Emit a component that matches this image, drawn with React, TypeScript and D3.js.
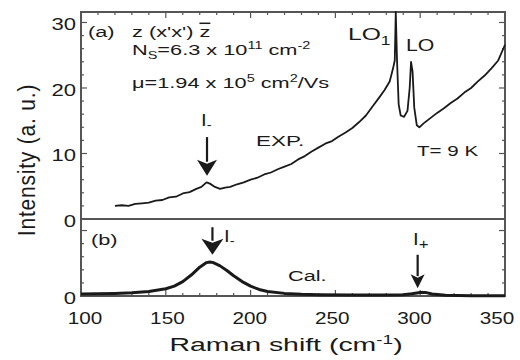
import React from 'react';
import * as d3 from 'd3';

// (a) measured spectrum, Raman shift (cm-1) vs intensity (a. u.)
const expShift = [120, 124, 128, 132, 136, 140, 144, 148, 152, 156, 160, 164, 168, 171, 174, 176, 179, 182, 185, 188,
  192, 196, 200, 204, 208, 212, 216, 220, 224, 228, 232, 236, 240, 244, 248, 252, 256, 260, 264, 268,
  272, 276, 279, 282, 284, 285, 285.6, 286.3, 287.3, 288.5, 290.5, 292.5, 293.8, 294.6, 295.5, 296.5, 298, 299.5,
  302, 306, 310, 314, 318, 322, 326, 330, 334, 338, 342, 346, 350];
const expIntensity = [2.0, 2.1, 2.0, 2.3, 2.4, 2.5, 2.8, 2.9, 3.3, 3.4, 3.9, 4.1, 4.6, 4.9, 5.6, 5.4, 4.9, 4.6, 4.8, 4.9,
  5.3, 5.6, 6.0, 6.3, 6.8, 7.1, 7.6, 8.0, 8.4, 9.1, 9.6, 10.3, 10.9, 11.5, 11.9, 12.6, 13.2, 13.9, 14.8, 15.8,
  17.2, 18.6, 19.7, 21.0, 23.0, 24.2, 31.6, 24.5, 17.5, 15.8, 15.6, 16.5, 20.0, 24.0, 22.5, 17.0, 14.3, 14.0,
  14.6, 15.4, 16.2, 16.9, 17.7, 18.4, 19.3, 20.0, 21.0, 21.9, 23.0, 24.2, 26.6];

// (b) calculated spectrum
const calShift = [100, 110, 120, 130, 140, 150, 155, 160, 165, 170, 174, 176, 178, 182, 186, 190, 195, 200, 205, 210,
  220, 230, 240, 260, 280, 290, 295, 300, 303, 307, 315, 330, 350];
const calIntensity = [0.3, 0.35, 0.4, 0.5, 0.7, 1.1, 1.5, 2.2, 3.2, 4.4, 5.1, 5.2, 5.1, 4.6, 3.9, 3.1, 2.2, 1.5, 1.0, 0.7,
  0.4, 0.25, 0.2, 0.15, 0.15, 0.2, 0.35, 0.55, 0.55, 0.3, 0.1, 0.05, 0.05];

const xTicks = [100, 150, 200, 250, 300, 350];
const topYTicks = [0, 10, 20, 30];
const botYTicks = [0];

const W = 520, H = 360;
const L = 81, R = 505, T = 12, MID = 219, B = 296;
const FONT = 'Liberation Sans, Arial, sans-serif';
const INK = '#1a1a1a';
const FRAME = '#555';
const SX = 1.45; // the figure's lettering is wide

const x = d3.scaleLinear().domain([100, 350]).range([L, R]);
// tick labels in the original sit slightly inside the ticks at both ends
const xLabel = d3.scaleLinear().domain([100, 350]).range([85, 497]);
const yTop = d3.scaleLinear().domain([0, 31.6]).range([MID, T]);
const yBot = d3.scaleLinear().domain([0, 11.76]).range([B, MID]);

const expLine = d3.line<number>().x((d, i) => x(expShift[i])).y(d => yTop(d));
const calLine = d3.line<number>().x((d, i) => x(calShift[i])).y(d => yBot(d));

// wide text: scaled horizontally about its anchor point
function WText({ x, y, sx = SX, size = 15, anchor = 'start', children }: any) {
  return (
    <text transform={`translate(${x},${y}) scale(${sx},1)`} fontSize={size} textAnchor={anchor} fill={INK}>
      {children}
    </text>
  );
}

function Arrow({ cx, y0, y1, headLen, headW }: { cx: number; y0: number; y1: number; headLen: number; headW: number }) {
  return (
    <g>
      <line x1={cx} x2={cx} y1={y0} y2={y1 - headLen + 2} stroke={INK} strokeWidth={2.2} />
      <path d={`M${cx - headW / 2},${y1 - headLen} L${cx},${y1} L${cx + headW / 2},${y1 - headLen} L${cx},${y1 - headLen * 0.75} Z`} fill={INK} />
    </g>
  );
}

export default function App() {
  const minorX = d3.range(100, 351, 10);
  const minorTop = d3.range(0, 31, 2);
  const minorBot = d3.range(0, 11, 2);

  return (
    <svg width={W} height={H} style={{ position: 'absolute', left: 0, top: 0, background: '#fff' }} fontFamily={FONT}>
      {/* ticks */}
      <g stroke={FRAME} strokeWidth={1.2}>
        {minorX.map(v => {
          const len = v % 50 === 0 ? 6 : 3;
          return (
            <g key={'x' + v}>
              <line x1={x(v)} x2={x(v)} y1={T} y2={T + len} />
              <line x1={x(v)} x2={x(v)} y1={B} y2={B - len} />
            </g>
          );
        })}
        {minorTop.map(v => {
          const len = v % 10 === 0 ? 6 : 3;
          return (
            <g key={'t' + v}>
              <line x1={L} x2={L + len} y1={yTop(v)} y2={yTop(v)} />
              <line x1={R} x2={R - len} y1={yTop(v)} y2={yTop(v)} />
            </g>
          );
        })}
        {minorBot.map(v => {
          const len = v % 10 === 0 ? 6 : 3;
          return (
            <g key={'b' + v}>
              <line x1={L} x2={L + len} y1={yBot(v)} y2={yBot(v)} />
              <line x1={R} x2={R - len} y1={yBot(v)} y2={yBot(v)} />
            </g>
          );
        })}
      </g>

      {/* frame and divider */}
      <rect x={L} y={T} width={R - L} height={B - T} fill="none" stroke={FRAME} strokeWidth={2} />
      <line x1={L} x2={R} y1={MID} y2={MID} stroke={FRAME} strokeWidth={2} />

      {/* curves */}
      <path d={expLine(expIntensity) || ''} fill="none" stroke={INK} strokeWidth={1.8} strokeLinejoin="round" />
      <path d={calLine(calIntensity) || ''} fill="none" stroke={INK} strokeWidth={3} strokeLinejoin="round" />

      {/* tick labels */}
      {xTicks.map(v => (
        <WText key={'xl' + v} x={xLabel(v)} y={324} size={17} sx={1.22} anchor="middle">{v}</WText>
      ))}
      {topYTicks.map(v => (
        <WText key={'yl' + v} x={76} y={yTop(v) + 8} size={17} sx={1.3} anchor="end">{v}</WText>
      ))}
      {botYTicks.map(v => (
        <WText key={'yb' + v} x={76} y={yBot(v) + 8} size={17} sx={1.3} anchor="end">{v}</WText>
      ))}

      {/* axis titles */}
      <WText x={286} y={351} size={18} sx={1.58} anchor="middle">
        Raman shift  (cm<tspan dy={-7} fontSize={12}>-1</tspan><tspan dy={7}>)</tspan>
      </WText>
      <text transform="translate(35,160) scale(1.15,1) rotate(-90)" textAnchor="middle" fontSize={21} fill={INK} letterSpacing={0.8}>
        Intensity  (a. u.)
      </text>

      {/* annotations */}
      <WText x={88} y={37}>(a)</WText>
      <WText x={132} y={37}>z (x'x') <tspan textDecoration="overline">z</tspan></WText>
      <WText x={132} y={55}>N<tspan dy={4} fontSize={10}>S</tspan><tspan dy={-4}>=6.3 x 10</tspan><tspan dy={-6} fontSize={10}>11</tspan><tspan dy={6}> cm</tspan><tspan dy={-6} fontSize={10}>-2</tspan></WText>
      <WText x={132} y={88}>μ=1.94 x 10<tspan dy={-6} fontSize={10}>5</tspan><tspan dy={6}> cm</tspan><tspan dy={-6} fontSize={10}>2</tspan><tspan dy={6}>/Vs</tspan></WText>
      <WText x={256} y={146} sx={1.5}>EXP.</WText>
      <WText x={417} y={156} sx={1.37}>T= 9 K</WText>
      <WText x={348} y={40} size={17}>LO<tspan dy={5} fontSize={12}>1</tspan></WText>
      <WText x={406} y={51} size={17} sx={1.25}>LO</WText>
      <WText x={91} y={245}>(b)</WText>
      <WText x={288} y={281}>Cal.</WText>
      <WText x={201} y={126} size={17} sx={1.2}>I<tspan dy={3} fontSize={12}>-</tspan></WText>
      <WText x={224} y={242} size={17} sx={1.2}>I<tspan dy={3} fontSize={12}>-</tspan></WText>
      <WText x={413} y={245} size={17} sx={1.2}>I<tspan dy={4} fontSize={14}>+</tspan></WText>

      {/* arrows */}
      <Arrow cx={x(174.3)} y0={yTop(12.5)} y1={yTop(6.6)} headLen={16} headW={20} />
      <Arrow cx={x(177.5)} y0={yBot(10.5)} y1={yBot(6.3)} headLen={16} headW={22} />
      <Arrow cx={x(298.5)} y0={yBot(6.3)} y1={yBot(1.2)} headLen={14} headW={14} />
    </svg>
  );
}
